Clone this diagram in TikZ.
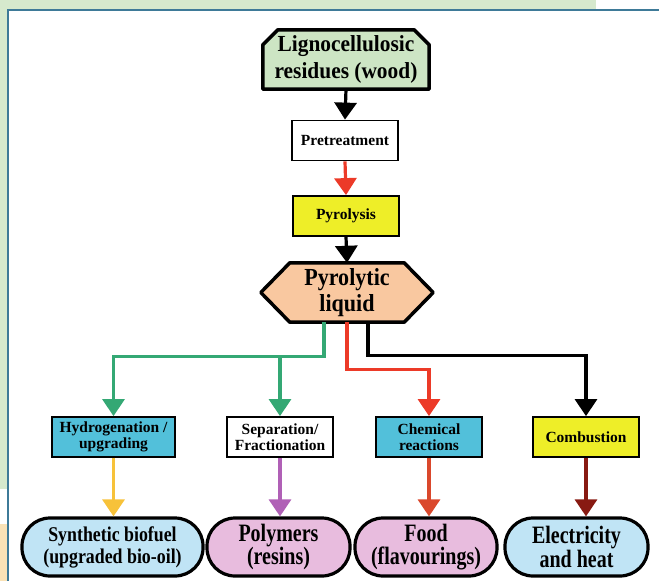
\documentclass[tikz,border=0pt]{standalone}
\usepackage{fontspec}
\setmainfont{Liberation Serif}
\newfontfamily\condA[FakeStretch=0.93]{Liberation Serif}
\newfontfamily\condB[FakeStretch=0.8]{Liberation Serif}
\newfontfamily\condC[FakeStretch=0.9]{Liberation Serif}
\newfontfamily\condD[FakeStretch=0.85]{Liberation Serif}
\usetikzlibrary{arrows.meta,backgrounds,calc}

\definecolor{pagegreen}{RGB}{214,233,205}
\definecolor{pagesand}{RGB}{250,226,182}
\definecolor{frameblue}{RGB}{62,122,152}
\definecolor{woodgreen}{RGB}{205,229,196}
\definecolor{peach}{RGB}{249,200,160}
\definecolor{boxyellow}{RGB}{238,238,40}
\definecolor{boxcyan}{RGB}{82,192,218}
\definecolor{pillblue}{RGB}{192,228,245}
\definecolor{pillpink}{RGB}{232,188,222}
\definecolor{flowgreen}{RGB}{52,168,116}
\definecolor{flowred}{RGB}{236,58,40}
\definecolor{flowgold}{RGB}{247,194,58}
\definecolor{flowpurple}{RGB}{176,96,182}
\definecolor{floworange}{RGB}{218,72,44}
\definecolor{flowmaroon}{RGB}{136,26,18}

\begin{document}
\begin{tikzpicture}[x=1pt,y=-1pt,
  flow/.style={line width=3.2pt,-{Triangle[width=22pt,length=17pt]}},
  bigshape/.style={line width=3.5pt,line join=round},
  stepbox/.style={draw=black,line width=1.8pt,minimum width=106pt,minimum height=40pt,
    inner sep=0pt,align=center,font=\bfseries\fontsize{15.5}{16}\selectfont},
  pill/.style={draw=black,line width=3.2pt,rounded corners=28pt,minimum height=58pt,
    inner sep=0pt,align=center,font=\condB\bfseries\fontsize{25}{23.5}\selectfont},
  textonly/.style={draw=none,inner sep=0pt,align=center}
]
\useasboundingbox (0,0) rectangle (659,581);

% page backdrop and panel frame
\fill[pagegreen] (0,0) rectangle (596,10);
\fill[pagegreen] (0,0) rectangle (8,489);
\fill[pagesand] (0,524) rectangle (8,581);
\draw[frameblue,line width=2pt] (8,581) -- (8,10) -- (659,10);

% main chain
\node[textonly,minimum width=166pt,minimum height=59pt,
  font=\condA\bfseries\fontsize{23}{27}\selectfont] (lig) at (346,59.5)
  {Lignocellulosic\\residues (wood)};
\node[stepbox,fill=white] (pre) at (345,140.5) {Pretreatment};
\node[stepbox,fill=boxyellow] (pyr) at (346,216) {Pyrolysis};
\node[textonly,minimum width=172pt,minimum height=59pt,
  font=\condC\bfseries\fontsize{24.5}{26}\selectfont] (hex) at (347,292.5)
  {Pyrolytic\\liquid};

\begin{pgfonlayer}{background}
  \draw[bigshape,fill=woodgreen] (lig.south west) -- ([yshift=-15pt]lig.north west)
    -- ([xshift=15pt]lig.north west) -- ([xshift=-15pt]lig.north east)
    -- ([yshift=-15pt]lig.north east) -- (lig.south east) -- cycle;
  \draw[bigshape,fill=peach] (hex.west) -- ([xshift=29pt]hex.north west)
    -- ([xshift=-29pt]hex.north east) -- (hex.east)
    -- ([xshift=-29pt]hex.south east) -- ([xshift=29pt]hex.south west) -- cycle;
\end{pgfonlayer}

% processing routes
\node[stepbox,fill=boxcyan,minimum width=123pt] (hyd) at (113.5,437) {Hydrogenation /\\upgrading};
\node[stepbox,fill=white] (sep) at (280,437) {Separation/\\Fractionation};
\node[stepbox,fill=boxcyan] (chem) at (429,437) {Chemical\\reactions};
\node[stepbox,fill=boxyellow] (comb) at (586,437) {Combustion};

% products
\node[pill,fill=pillblue,minimum width=181pt,
  font=\condD\bfseries\fontsize{21}{22}\selectfont] (syn) at (112.5,547)
  {Synthetic biofuel\\(upgraded bio-oil)};
\node[pill,fill=pillpink,minimum width=143pt] (poly) at (278.5,547) {Polymers\\(resins)};
\node[pill,fill=pillpink,minimum width=142pt] (food) at (426,547) {Food\\(flavourings)};
\node[pill,fill=pillblue,minimum width=143pt] (elec) at (576.5,547) {Electricity\\and heat};

% connectors
\draw[flow,black] (lig.south) -- (pre.north);
\draw[flow,flowred] (pre.south) -- (pyr.north);
\draw[flow,black] (pyr.south) -- (hex.north);

\draw[flow,flowgreen] ([xshift=-23pt]hex.south) -- ++(0,34) coordinate (gturn) -| (hyd.north);
\draw[flow,flowgreen] (sep.north |- gturn) -- (sep.north);
\draw[flow,flowred] (hex.south) -- ++(0,47) -| (chem.north);
\draw[flow,black] ([xshift=21pt]hex.south) -- ++(0,33) -| (comb.north);

\draw[flow,flowgold] (hyd.south) -- (hyd.south |- syn.north);
\draw[flow,flowpurple] (sep.south) -- (sep.south |- poly.north);
\draw[flow,floworange] (chem.south) -- (chem.south |- food.north);
\draw[flow,flowmaroon] (comb.south) -- (comb.south |- elec.north);
\end{tikzpicture}
\end{document}
